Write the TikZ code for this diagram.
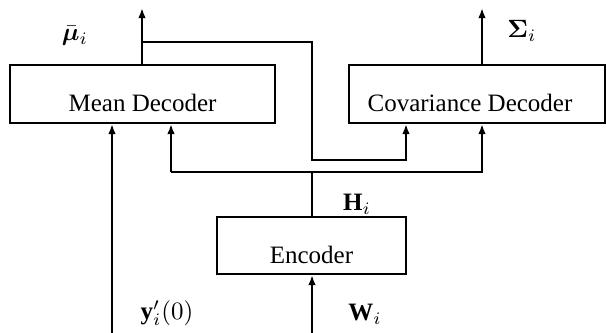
\documentclass[tikz,border=0pt]{standalone}
\usepackage{bm}
\usepackage{fontspec}
\setmainfont{Liberation Serif}
\usetikzlibrary{arrows.meta}
\begin{document}
\begin{tikzpicture}[x=0.4pt,y=-0.4pt,
  box/.style={draw,line width=0.8pt,inner sep=0pt},
  wire/.style={line width=0.8pt},
  arr/.style={wire,-{Latex[length=4pt,width=3pt]}},
  lbl/.style={inner sep=0pt}]
\useasboundingbox (0,0) rectangle (607,333);
\node[box,minimum width=106pt,minimum height=23.2pt] (mean) at (142.5,94) {};
\node[box,minimum width=102.4pt,minimum height=23.2pt] (cov) at (477,94) {};
\node[box,minimum width=75.6pt,minimum height=22.8pt] (enc) at (311.5,245.5) {};
\node[lbl] (meant) at (142.5,103) {Mean Decoder};
\node[lbl] (covt) at (470,103) {Covariance Decoder};
\node[lbl] (enct) at (311.5,255) {Encoder};
% outputs
\coordinate (muout) at (142,8);
\coordinate (sigout) at (482,8);
\draw[arr] (mean.north -| muout) -- (muout);
\draw[arr] (cov.north -| sigout) -- (sigout);
% loop from mean output to covariance decoder
\coordinate (lp) at (142,42);
\coordinate (lpa) at (312,42);
\coordinate (lpb) at (312,160);
\coordinate (lpc) at (406,160);
\draw[arr] (lp) -- (lpa) -- (lpb) -- (lpc) -- (cov.south -| lpc);
% bus from encoder
\coordinate (bus) at (312,172);
\coordinate (busl) at (171,172);
\coordinate (busr) at (482,172);
\draw[wire] (enc.north -| bus) -- (bus);
\draw[arr] (busl) -- (busr) -- (cov.south -| busr);
\draw[arr] (busl) -- (mean.south -| busl);
% inputs
\coordinate (win) at (312,333);
\coordinate (yin) at (112,333);
\draw[arr] (win) -- (enc.south -| win);
\draw[arr] (yin) -- (mean.south -| yin);
% labels
\node[lbl] (lmu) at (75,36) {$\bar{\bm{\mu}}_i$};
\node[lbl] (lsig) at (522,31) {$\bm{\Sigma}_i$};
\node[lbl] (lh) at (357,204) {$\mathbf{H}_i$};
\node[lbl] (ly) at (167,313) {$\mathbf{y}'_i(0)$};
\node[lbl] (lw) at (365,314) {$\mathbf{W}_i$};
\end{tikzpicture}
\end{document}
